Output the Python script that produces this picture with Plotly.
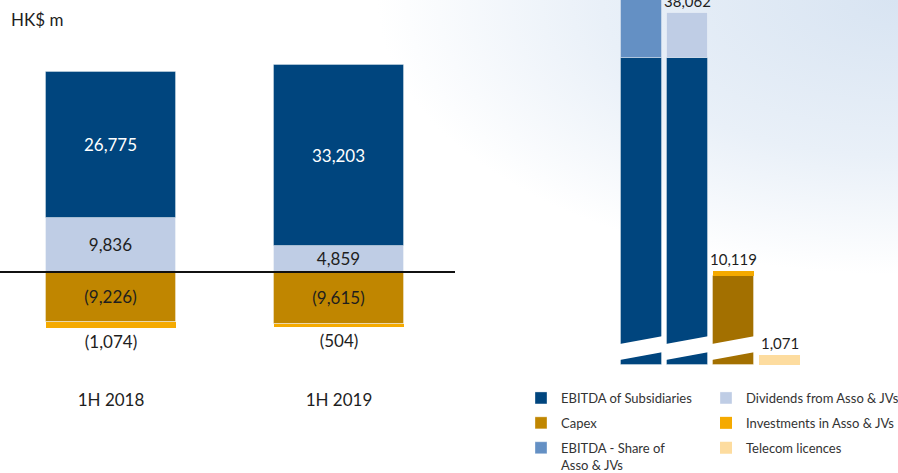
import base64
import plotly.graph_objects as go

# ---------------- data ----------------
periods = ["1H 2018", "1H 2019"]
ebitda_subs = [26775, 33203]
dividends = [9836, 4859]
capex = [-9226, -9615]
investments = [-1074, -504]

# right-hand breakdown (1H 2019 funds flow)
bd_ebitda_subs = 33203
bd_ebitda_share = 14000   # estimated: top of bar is cut off in the source
bd_dividends = 4859
bd_capex = 9615
bd_investments = 504
bd_telecom = 1071

# ---------------- style ----------------
W, H = 898, 473
FONT = "Lato, Roboto, sans-serif"
C_EBITDA = "#00457e"
C_DIV = "#bfcde5"
C_CAPEX = "#c08600"
C_CAPEX_R = "#a37000"
C_INV = "#f5aa00"
C_SHARE = "#6490c4"
C_TEL = "#fddc9f"
EDGE = dict(color="rgba(255,255,255,0.35)", width=1)
TXT = "#1e1e1e"
LEG_TXT = "#333333"

PLOT_BOTTOM_PX = 388
ydom = [(H - PLOT_BOTTOM_PX) / H, 1]
# left axis: zero at 272px, 5.45 px per 1000
L_ZERO, L_SCALE = 272, 5.45 / 1000
left_range = [-(PLOT_BOTTOM_PX - L_ZERO) / L_SCALE, L_ZERO / L_SCALE]
# right axis: zero at 365px, 9.25 px per 1000
R_ZERO, R_SCALE = 365, 9.25 / 1000
right_range = [-(PLOT_BOTTOM_PX - R_ZERO) / R_SCALE, R_ZERO / R_SCALE]
LBAR_W = 0.57
RBAR_W = 0.89
# broken-bar cut (value units on right axis): lower-left, lower-right, upper-left, upper-right
BREAK = (540, 1405, 2270, 3135)


def fmt(v):
    return f"({abs(v):,})" if v < 0 else f"{v:,}"


fig = go.Figure()

# ---- left chart (dividends sit next to the zero line, EBITDA above) ----
fig.add_trace(go.Bar(x=periods, y=dividends, name="Dividends from Asso & JVs",
                     marker=dict(color=C_DIV, line=EDGE), width=LBAR_W,
                     text=[fmt(v) for v in dividends], textposition="inside", constraintext="none",
                     insidetextanchor="middle", textfont=dict(color=TXT, size=17, family=FONT),
                     legend="legend2", legendrank=1, legendgroup="b", xaxis="x", yaxis="y"))
fig.add_trace(go.Bar(x=periods, y=ebitda_subs, name="EBITDA of Subsidiaries",
                     marker=dict(color=C_EBITDA, line=EDGE), width=LBAR_W,
                     text=[fmt(v) for v in ebitda_subs], textposition="inside",
                     insidetextanchor="middle", textfont=dict(color="white", size=17, family=FONT),
                     legend="legend", legendrank=1, legendgroup="a", xaxis="x", yaxis="y"))
fig.add_trace(go.Bar(x=periods, y=capex, name="Capex",
                     marker=dict(color=C_CAPEX, line=EDGE), width=LBAR_W,
                     text=[fmt(v) for v in capex], textposition="inside", constraintext="none",
                     insidetextanchor="middle", textfont=dict(color=TXT, size=17, family=FONT),
                     legend="legend", legendrank=2, legendgroup="c", xaxis="x", yaxis="y"))
fig.add_trace(go.Bar(x=periods, y=investments, name="Investments in Asso & JVs",
                     marker=dict(color=C_INV, line=dict(width=0)), width=LBAR_W,
                     text=[fmt(v) for v in investments], textposition="outside",
                     outsidetextfont=dict(color=TXT, size=17, family=FONT), cliponaxis=False,
                     legend="legend2", legendrank=2, legendgroup="d", xaxis="x", yaxis="y"))

# ---- right chart (broken bars) ----
fig.add_trace(go.Bar(x=[0, 1], y=[bd_ebitda_subs, bd_ebitda_subs], showlegend=False,
                     marker=dict(color=C_EBITDA, line=EDGE), width=RBAR_W, xaxis="x2", yaxis="y2"))
fig.add_trace(go.Bar(x=[0], y=[bd_ebitda_share], name="EBITDA - Share of<br>Asso & JVs",
                     marker=dict(color=C_SHARE, line=EDGE), width=RBAR_W,
                     legend="legend", legendrank=3, legendgroup="e", xaxis="x2", yaxis="y2"))
fig.add_trace(go.Bar(x=[1], y=[bd_dividends], showlegend=False,
                     marker=dict(color=C_DIV, line=EDGE), width=RBAR_W, xaxis="x2", yaxis="y2"))
fig.add_trace(go.Bar(x=[2], y=[bd_capex], showlegend=False,
                     marker=dict(color=C_CAPEX_R, line=EDGE), width=RBAR_W, xaxis="x2", yaxis="y2"))
fig.add_trace(go.Bar(x=[2], y=[bd_investments], showlegend=False,
                     marker=dict(color=C_INV, line=dict(width=0)), width=RBAR_W, xaxis="x2", yaxis="y2"))
fig.add_trace(go.Bar(x=[3], y=[bd_telecom], name="Telecom licences",
                     marker=dict(color=C_TEL, line=dict(width=0)), width=RBAR_W,
                     legend="legend2", legendrank=3, legendgroup="f", xaxis="x2", yaxis="y2"))

totals = [(1, bd_ebitda_subs + bd_dividends), (2, bd_capex + bd_investments), (3, bd_telecom)]
annotations = []
for xi, tv in totals:
    annotations.append(dict(x=xi, y=tv, xref="x2", yref="y2", text=f"{tv:,}", showarrow=False,
                            yanchor="bottom", yshift=1, font=dict(size=15, color=TXT, family=FONT)))
annotations.append(dict(x=9 / W, y=1 - 19 / H, xref="paper", yref="paper", text="HK$ m",
                        showarrow=False, xanchor="left", yanchor="middle",
                        font=dict(size=17, color=TXT, family=FONT)))

shapes = [dict(type="line", xref="paper", yref="y", x0=0, x1=455 / W, y0=0, y1=0,
               line=dict(color="#111111", width=2), layer="above")]
lo_l, lo_r, up_l, up_r = BREAK
for xi in (0, 1, 2):
    x0, x1 = xi - RBAR_W / 2 - 0.03, xi + RBAR_W / 2 + 0.03
    shapes.append(dict(type="path", xref="x2", yref="y2",
                       path=f"M{x0},{lo_l} L{x1},{lo_r} L{x1},{up_r} L{x0},{up_l} Z",
                       fillcolor="white", line=dict(width=0), layer="above"))

svg = (f"<svg xmlns='http://www.w3.org/2000/svg' width='{W}' height='{H}'>"
       "<defs><radialGradient id='g' cx='1' cy='0' r='1'>"
       "<stop offset='0' stop-color='#d8e4f2'/><stop offset='0.33' stop-color='#e9f0f8'/>"
       "<stop offset='0.58' stop-color='#ffffff'/></radialGradient></defs>"
       f"<rect width='{W}' height='{H}' fill='url(#g)'/></svg>")
bg_src = "data:image/svg+xml;base64," + base64.b64encode(svg.encode()).decode()

leg_common = dict(xanchor="left", yanchor="top", orientation="v", bgcolor="rgba(0,0,0,0)",
                  font=dict(size=13, color=LEG_TXT, family=FONT),
                  tracegroupgap=5, valign="top", traceorder="grouped")

fig.update_layout(
    width=W, height=H, margin=dict(l=0, r=0, t=0, b=0, autoexpand=False),
    paper_bgcolor="white", plot_bgcolor="rgba(0,0,0,0)",
    barmode="relative", bargap=0,
    font=dict(family=FONT, color=TXT),
    xaxis=dict(domain=[0, 455 / W], range=[-0.487, 1.509], showgrid=False, zeroline=False,
               showline=False, ticks="", tickfont=dict(size=17, color=TXT, family=FONT), anchor="y"),
    yaxis=dict(domain=ydom, range=left_range, showgrid=False, zeroline=False,
               showticklabels=False, anchor="x"),
    xaxis2=dict(domain=[600 / W, 1], range=[-0.902, 5.576], showgrid=False, zeroline=False,
                showticklabels=False, anchor="y2"),
    yaxis2=dict(domain=ydom, range=right_range, showgrid=False, zeroline=False,
                showticklabels=False, anchor="x2"),
    legend=dict(x=521 / W, y=1 - 383 / H, **leg_common),
    legend2=dict(x=706 / W, y=1 - 383 / H, **leg_common),
    annotations=annotations, shapes=shapes,
    images=[dict(source=bg_src, xref="paper", yref="paper", x=0, y=1, sizex=1, sizey=1,
                 sizing="stretch", layer="below", xanchor="left", yanchor="top")],
)

fig.write_html("out.html")
